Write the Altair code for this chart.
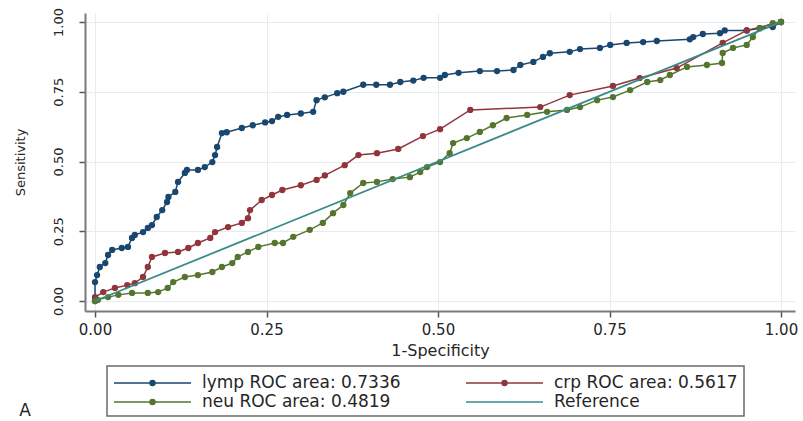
import altair as alt
import pandas as pd

# ---- series labels (legend text) ----
labels = ["lymp ROC area: 0.7336", "crp ROC area: 0.5617", "neu ROC area: 0.4819", "Reference"]
colors = ["#1a476f", "#90353b", "#55752f", "#3a8a8a"]
x_ticks = [0, 0.25, 0.5, 0.75, 1.0]
y_ticks = [0, 0.25, 0.5, 0.75, 1.0]

# ---- lymp ROC curve (1-specificity, sensitivity) ----
lymp_fpr = [0, 0, 0.003, 0.007, 0.015, 0.019, 0.025, 0.039, 0.048, 0.054,
            0.058, 0.07, 0.077, 0.083, 0.09, 0.098, 0.105, 0.107, 0.117, 0.121,
            0.131, 0.134, 0.15, 0.16, 0.171, 0.175, 0.178, 0.185, 0.192, 0.214,
            0.23, 0.248, 0.258, 0.267, 0.28, 0.30, 0.318, 0.323, 0.335, 0.353,
            0.362, 0.391, 0.41, 0.43, 0.445, 0.464, 0.479, 0.503, 0.51, 0.53,
            0.561, 0.586, 0.61, 0.62, 0.639, 0.653, 0.663, 0.692, 0.707, 0.736,
            0.751, 0.775, 0.799, 0.819, 0.867, 0.872, 0.886, 0.911, 0.918, 0.95,
            0.969, 0.988, 1.0]
lymp_tpr = [0, 0.068, 0.093, 0.122, 0.136, 0.165, 0.183, 0.19, 0.194, 0.226,
            0.237, 0.247, 0.262, 0.272, 0.301, 0.326, 0.355, 0.373, 0.391, 0.427,
            0.459, 0.47, 0.47, 0.48, 0.498, 0.523, 0.552, 0.602, 0.605, 0.62,
            0.63, 0.64, 0.645, 0.66, 0.667, 0.672, 0.678, 0.72, 0.73, 0.745,
            0.75, 0.775, 0.775, 0.775, 0.785, 0.79, 0.80, 0.80, 0.81, 0.818,
            0.824, 0.824, 0.828, 0.846, 0.857, 0.875, 0.888, 0.893, 0.903, 0.907,
            0.918, 0.925, 0.928, 0.932, 0.938, 0.946, 0.957, 0.96, 0.97, 0.97,
            0.978, 0.982, 1.0]

# ---- crp ROC curve ----
crp_fpr = [0, 0, 0.012, 0.029, 0.047, 0.058, 0.07, 0.077, 0.083, 0.102,
           0.121, 0.136, 0.15, 0.168, 0.175, 0.194, 0.214, 0.223, 0.226, 0.243,
           0.258, 0.273, 0.3, 0.323, 0.335, 0.364, 0.384, 0.411, 0.442, 0.478,
           0.503, 0.547, 0.649, 0.692, 0.755, 0.794, 0.848, 0.915, 0.95, 1.0]
crp_tpr = [0.004, 0.014, 0.032, 0.047, 0.057, 0.064, 0.086, 0.122, 0.158, 0.172,
           0.176, 0.19, 0.208, 0.226, 0.247, 0.265, 0.28, 0.297, 0.326, 0.362,
           0.38, 0.398, 0.415, 0.434, 0.45, 0.487, 0.523, 0.530, 0.545, 0.591,
           0.616, 0.685, 0.695, 0.738, 0.771, 0.799, 0.835, 0.925, 0.97, 1.0]

# ---- neu ROC curve ----
neu_fpr = [0, 0.004, 0.019, 0.034, 0.054, 0.077, 0.092, 0.106, 0.114, 0.131,
           0.15, 0.171, 0.185, 0.2, 0.208, 0.223, 0.238, 0.262, 0.274, 0.289,
           0.313, 0.332, 0.347, 0.362, 0.372, 0.391, 0.411, 0.434, 0.459, 0.474,
           0.484, 0.503, 0.517, 0.522, 0.542, 0.561, 0.58, 0.6, 0.63, 0.659,
           0.688, 0.707, 0.732, 0.755, 0.78, 0.805, 0.824, 0.838, 0.863, 0.892,
           0.914, 0.915, 0.93, 0.95, 0.959, 0.969, 0.988, 1.0]
neu_tpr = [0, 0.004, 0.014, 0.022, 0.029, 0.029, 0.032, 0.047, 0.068, 0.086,
           0.093, 0.104, 0.122, 0.136, 0.158, 0.176, 0.194, 0.208, 0.208, 0.23,
           0.255, 0.28, 0.315, 0.344, 0.387, 0.423, 0.427, 0.437, 0.444, 0.462,
           0.48, 0.498, 0.53, 0.566, 0.584, 0.606, 0.63, 0.656, 0.667, 0.678,
           0.685, 0.695, 0.72, 0.731, 0.756, 0.785, 0.792, 0.81, 0.839, 0.846,
           0.853, 0.889, 0.907, 0.918, 0.946, 0.978, 0.996, 1.0]

# ---- reference diagonal ----
ref_fpr = [0, 1]
ref_tpr = [0, 1]

series = [(labels[0], lymp_fpr, lymp_tpr),
          (labels[1], crp_fpr, crp_tpr),
          (labels[2], neu_fpr, neu_tpr)]

frames = []
for name, fx, fy in series:
    assert len(fx) == len(fy), name
    frames.append(pd.DataFrame({"series": name, "fpr": fx, "tpr": fy, "idx": range(len(fx))}))
curves = pd.concat(frames, ignore_index=True)
ref = pd.DataFrame({"series": labels[3], "fpr": ref_fpr, "tpr": ref_tpr, "idx": range(len(ref_fpr))})

FONT = "DejaVu Sans"
TXT = "#262626"

xscale = alt.Scale(domain=[-0.0146, 1.0204], nice=False, zero=False)
yscale = alt.Scale(domain=[-0.0358, 1.0323], nice=False, zero=False)

X = alt.X("fpr:Q", scale=xscale,
          axis=alt.Axis(values=x_ticks, format=".2f", title="1-Specificity",
                        labelFontSize=15, titleFontSize=16, labelPadding=5, titlePadding=5))
Y = alt.Y("tpr:Q", scale=yscale,
          axis=alt.Axis(values=y_ticks, format=".2f", title="Sensitivity",
                        labelAngle=270, labelAlign="center", labelBaseline="bottom",
                        labelFontSize=13, titleFontSize=13, labelPadding=14, titlePadding=25))

stroke_enc = alt.Stroke("series:N", scale=alt.Scale(domain=labels, range=colors), legend=None)
fill_enc = alt.Fill("series:N", scale=alt.Scale(domain=labels, range=colors), legend=None)

# legend-only layer (no rows drawn), custom line+dot symbols (unit = 10 px)
dot = ("M-1,0H6.7"
       "M2.6,0a0.25,0.25 0 1,0 0.5,0a0.25,0.25 0 1,0 -0.5,0"
       "M2.73,0a0.12,0.12 0 1,0 0.24,0a0.12,0.12 0 1,0 -0.24,0")
plain = "M-1,0H6.7"
shapes = [dot, dot, dot, plain]
leg = alt.Legend(orient="none", legendX=22, legendY=353, columns=2, direction="horizontal",
                 title=None, labelFont=FONT, labelFontSize=17, labelColor=TXT, labelLimit=400,
                 symbolSize=400, symbolStrokeWidth=1.5, symbolOpacity=1, labelOffset=67,
                 columnPadding=62, rowPadding=0, padding=6,
                 strokeColor="#6a6a6a", fillColor="white")
legend_layer = alt.Chart(curves).transform_filter("false").mark_point(filled=False, opacity=1).encode(
    x=X, y=Y,
    color=alt.Color("series:N", scale=alt.Scale(domain=labels, range=colors), legend=leg),
    shape=alt.Shape("series:N", scale=alt.Scale(domain=labels, range=shapes), legend=leg))

layers = [legend_layer]
for name, _, _ in series:
    base = alt.Chart(curves).transform_filter(alt.datum.series == name)
    layers.append(base.mark_line(strokeWidth=1.5).encode(
        x=X, y=Y, order="idx:Q", stroke=stroke_enc))
    layers.append(base.mark_circle(size=40, opacity=1).encode(
        x=X, y=Y, fill=fill_enc))

layers.append(alt.Chart(ref).mark_line(strokeWidth=1.8).encode(
    x=X, y=Y, order="idx:Q", stroke=stroke_enc))

# panel letter
layers.append(alt.Chart(pd.DataFrame({"t": ["A"]})).mark_text(
    font=FONT, fontSize=17, color=TXT, align="center", baseline="middle").encode(
    x=alt.value(-60), y=alt.value(398), text="t:N"))

chart = alt.layer(*layers).properties(
    width=710, height=298,
    autosize=alt.AutoSizeParams(type="none"),
    padding={"left": 85, "top": 13, "right": 8, "bottom": 110},
    background="white",
).configure_view(stroke=None).configure_axis(
    labelFont=FONT, titleFont=FONT, labelColor=TXT, titleColor=TXT,
    titleFontWeight="normal", grid=True, gridColor="#e4eef0", gridWidth=1,
    domainColor="#7a7a7a", domainWidth=2, tickColor="#555555", tickWidth=1.5, tickSize=6,
).configure_legend(strokeWidth=1.5)

chart.save("out.html", embed_options={"renderer": "svg", "actions": False})
